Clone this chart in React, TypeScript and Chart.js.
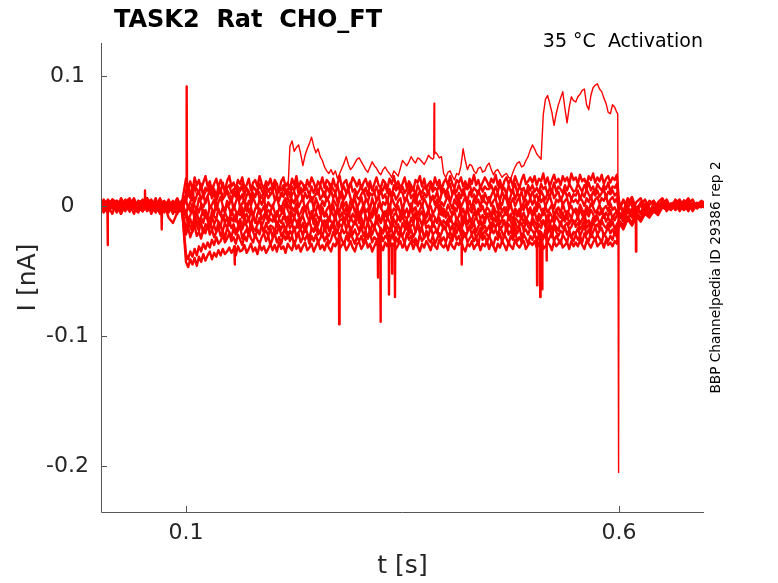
import { useEffect, useRef } from "react";
import { Chart, registerables, Plugin } from "chart.js";

Chart.register(...registerables);

// sample times of the sweeps, in ms (finer while the step is applied)
const TIME_MS = [
  0, 5, 10, 15, 20, 25, 30, 35, 40, 45, 50, 55, 60, 65, 70, 75, 80, 85, 90, 95,
  100, 102.5, 105, 107.5, 110, 112.5, 115, 117.5, 120, 122.5, 125, 127.5, 130, 132.5, 135, 137.5, 140, 142.5, 145, 147.5,
  150, 152.5, 155, 157.5, 160, 162.5, 165, 167.5, 170, 172.5, 175, 177.5, 180, 182.5, 185, 187.5, 190, 192.5, 195, 197.5,
  200, 202.5, 205, 207.5, 210, 212.5, 215, 217.5, 220, 222.5, 225, 227.5, 230, 232.5, 235, 237.5, 240, 242.5, 245, 247.5,
  250, 252.5, 255, 257.5, 260, 262.5, 265, 267.5, 270, 272.5, 275, 277.5, 280, 282.5, 285, 287.5, 290, 292.5, 295, 297.5,
  300, 302.5, 305, 307.5, 310, 312.5, 315, 317.5, 320, 322.5, 325, 327.5, 330, 332.5, 335, 337.5, 340, 342.5, 345, 347.5,
  350, 352.5, 355, 357.5, 360, 362.5, 365, 367.5, 370, 372.5, 375, 377.5, 380, 382.5, 385, 387.5, 390, 392.5, 395, 397.5,
  400, 402.5, 405, 407.5, 410, 412.5, 415, 417.5, 420, 422.5, 425, 427.5, 430, 432.5, 435, 437.5, 440, 442.5, 445, 447.5,
  450, 452.5, 455, 457.5, 460, 462.5, 465, 467.5, 470, 472.5, 475, 477.5, 480, 482.5, 485, 487.5, 490, 492.5, 495, 497.5,
  500, 502.5, 505, 507.5, 510, 512.5, 515, 517.5, 520, 522.5, 525, 527.5, 530, 532.5, 535, 537.5, 540, 542.5, 545, 547.5,
  550, 552.5, 555, 557.5, 560, 562.5, 565, 567.5, 570, 572.5, 575, 577.5, 580, 582.5, 585, 587.5, 590, 592.5, 595, 597.5,
  600, 605, 610, 615, 620, 625, 630, 635, 640, 645, 650, 655, 660, 665, 670, 675, 680, 685, 690, 695,
  700,
];

// current of each sweep, in pA (1e-3 nA)
const TRACE_01 = [
  3, -4, 1, 5, -2, -5, 2, 0, 6, -3, -1, 4, -6, 2, 3, -2, 5, -4, 0, 1,
  21, 14, 19, 12, 22, 16, 20, 13, 18, 23, 15, 19, 11, 17, 21, 14, 20, 16, 12, 19,
  23, 15, 18, 13, 20, 17, 22, 14, 16, 21, 12, 18, 20, 15, 23, 17, 13, 19, 16, 21,
  14, 20, 17, 11, 19, 22, 15, 18, 13, 21, 16, 23, 14, 19, 17, 12, 20, 15, 22, 18,
  13, 19, 16, 22, 14, 20, 18, 12, 21, 15, 17, 23, 14, 18, 20, 13, 16, 22, 19, 15,
  20, 13, 18, 21, 15, 19, 12, 17, 22, 16, 14, 20, 18, 13, 21, 17, 23, 15, 19, 14,
  17, 22, 14, 19, 16, 12, 20, 18, 23, 15, 21, 13, 17, 19, 14, 22, 16, 20, 12, 18,
  21, 16, 23, 17, 14, 20, 18, 22, 15, 19, 13, 21, 17, 24, 16, 20, 14, 18, 22, 19,
  15, 21, 18, 24, 16, 20, 13, 19, 22, 17, 21, 15, 23, 18, 14, 20, 24, 17, 19, 22,
  18, 23, 16, 21, 19, 25, 17, 22, 15, 20, 24, 18, 21, 16, 23, 19, 22, 17, 25, 20,
  22, 17, 24, 19, 21, 16, 23, 20, 25, 18, 22, 19, 24, 17, 21, 23, 18, 22, 20, 24,
  4, -6, 2, 7, -3, 1, 5, -2, -4, 3, 6, 0, -3, 2, 5, -1, 3, -4, 1, 4, 2,
];
const TRACE_02 = [
  -5, 2, 4, -1, -3, 6, 0, -4, 3, 1, -2, 5, -5, -1, 4, 2, -3, 0, 6, -2,
  9, 15, 11, 7, 16, 13, 10, 17, 8, 14, 12, 16, 9, 13, 7, 15, 11, 18, 10, 14,
  16, 10, 13, 8, 15, 12, 17, 9, 14, 11, 6, 15, 13, 10, 17, 12, 8, 16, 11, 14,
  11, 17, 8, 14, 12, 16, 10, 13, 7, 15, 12, 18, 9, 14, 11, 16, 13, 8, 15, 10,
  14, 9, 16, 12, 7, 15, 11, 17, 13, 10, 16, 8, 12, 15, 10, 14, 18, 11, 13, 9,
  12, 16, 10, 14, 8, 17, 13, 11, 15, 9, 14, 12, 17, 10, 13, 7, 16, 12, 15, 11,
  15, 10, 13, 17, 11, 14, 8, 16, 12, 10, 15, 13, 9, 17, 11, 14, 12, 16, 10, 13,
  10, 14, 17, 9, 13, 11, 16, 12, 8, 15, 13, 17, 10, 14, 12, 9, 16, 11, 15, 13,
  13, 16, 11, 15, 10, 18, 12, 14, 9, 16, 11, 13, 17, 10, 15, 12, 14, 8, 16, 12,
  16, 11, 14, 10, 17, 13, 15, 9, 14, 12, 18, 11, 15, 13, 10, 16, 12, 17, 14, 11,
  12, 17, 14, 11, 16, 13, 18, 12, 15, 10, 17, 14, 12, 16, 13, 18, 11, 15, 14, 17,
  -3, 5, -1, -5, 3, 6, -2, 1, 4, -3, 0, 5, -2, 3, -4, 2, 6, -1, 0, 3, -2,
];
const TRACE_03 = [
  0, 5, -3, -1, 4, -6, 2, 3, -2, 1, 5, -4, -1, 2, -5, 3, 0, 4, -3, 2,
  4, 10, 6, 12, 3, 8, 11, 5, 9, 2, 7, 13, 6, 10, 4, 9, 12, 5, 8, 11,
  6, 3, 10, 7, 12, 5, 9, 2, 8, 11, 4, 10, 7, 13, 5, 8, 3, 11, 6, 9,
  12, 5, 8, 4, 10, 7, 13, 6, 2, 9, 11, 5, 8, 12, 4, 10, 6, 9, 3, 7,
  9, 13, 5, 8, 11, 4, 7, 12, 6, 10, 3, 8, 11, 5, 9, 13, 6, 2, 10, 7,
  5, 9, 12, 6, 3, 10, 8, 11, 4, 7, 12, 6, 9, 3, 11, 7, 10, 5, 8, 12,
  10, 4, 7, 13, 6, 9, 2, 8, 11, 5, 10, 7, 12, 4, 8, 6, 11, 3, 9, 13,
  7, 11, 3, 9, 12, 5, 10, 6, 13, 8, 4, 11, 7, 9, 5, 12, 8, 3, 10, 6,
  3, 8, 12, 6, 10, 4, 11, 7, 9, 2, 8, 13, 5, 10, 7, 11, 4, 9, 12, 6,
  11, 6, 9, 4, 12, 8, 5, 10, 7, 13, 6, 9, 11, 4, 8, 12, 7, 10, 5, 9,
  8, 12, 5, 10, 7, 13, 9, 6, 11, 8, 12, 7, 10, 13, 6, 11, 9, 12, 8, 10,
  2, -4, 6, 0, -5, 3, -1, 4, 2, -3, 5, -2, 1, 4, -1, -3, 2, 5, -2, 1, 3,
];
const TRACE_04 = [
  4, -2, -5, 3, 1, -1, 5, -3, 0, 2, -4, 6, 1, -2, -5, 3, 2, -1, 4, -4,
  5, -2, 3, 7, 0, -3, 6, 2, -1, 4, 8, -2, 1, 5, -3, 3, 7, 0, -4, 4,
  1, 6, -3, 3, 8, -1, 2, 5, -4, 4, 0, 7, 2, -2, 5, 1, 6, -3, 3, 0,
  -1, 4, 7, 0, -4, 3, 6, 1, -2, 5, 2, 8, -1, 3, 6, -3, 1, 4, 7, -2,
  6, 1, -2, 4, 0, 7, 3, -3, 5, 2, -1, 6, 8, 0, 3, -4, 4, 1, 6, -1,
  2, 7, -1, 5, 3, -3, 6, 0, 4, 8, -2, 3, 1, 5, -4, 7, 2, -1, 4, 6,
  -3, 3, 6, 1, -2, 5, 8, 0, 4, -1, 6, 2, -3, 4, 7, 1, 5, -2, 3, 0,
  4, 8, 2, -2, 5, 1, 6, -1, 3, 7, 0, 4, -3, 6, 2, 5, -1, 8, 3, 1,
  7, 0, 4, 6, -2, 3, 1, 8, 5, -1, 2, 6, 0, 4, 7, -3, 3, 5, 1, 6,
  1, 5, -1, 7, 3, 6, 0, 4, 8, 2, -2, 5, 3, 7, 1, 4, 6, -1, 5, 3,
  5, 2, 7, 4, 0, 6, 3, 8, 1, 5, 7, 2, 6, 4, 8, 1, 5, 7, 3, 6,
  -5, -8, -1, 3, -4, 2, -6, 1, 4, -2, 0, 3, -3, 5, 1, -2, 4, 0, -1, 3, 2,
];
const TRACE_05 = [
  -2, 3, 0, -6, 4, 2, -3, 1, 5, -1, -4, 0, 3, -2, 6, -5, 1, 2, -3, 4,
  -6, 0, -4, 2, -8, -1, -5, 1, -7, -3, -9, 0, -2, -6, 3, -4, -7, -1, -5, 2,
  -2, -7, 1, -4, -6, 0, -9, -3, 2, -5, -1, -8, -2, 1, -6, -4, 0, -7, -3, -5,
  1, -5, -8, -2, 0, -6, 3, -3, -7, -1, -4, 2, -8, -5, -1, -3, 1, -6, -9, -2,
  -4, 2, -6, -1, -8, -3, 0, -5, 1, -7, -2, -4, 3, -6, -1, -8, -3, 2, -5, 0,
  -7, -3, 1, -5, -2, -9, -4, 0, -6, 2, -1, -5, -8, -3, 1, -6, -2, -4, 0, -7,
  0, -6, -2, -8, 2, -4, -1, -7, -3, 1, -5, -9, -2, 0, -6, -3, 2, -5, -1, -8,
  -5, 1, -3, -7, -1, -4, 3, -6, -2, -8, 0, -3, -5, 1, -7, -2, -4, 0, -6, -1,
  -3, -8, 0, -4, -6, 2, -5, -1, -7, -3, 1, -6, -2, -4, -8, 0, -3, 2, -5, -1,
  -6, -1, -4, 2, -3, -7, 0, -5, -2, 1, -8, -3, -1, -6, 2, -4, -7, -2, 0, -5,
  -2, -5, 1, -3, -6, 0, -4, 2, -1, -5, -3, 1, -6, -2, 0, -4, 2, -3, -1, -5,
  -9, -4, -11, -2, -6, 1, -3, -5, 2, -1, 3, -4, 1, -2, 4, 0, -3, 2, -1, 1, -2,
];
const TRACE_06 = [
  1, -5, 4, 2, -2, 0, -4, 5, -1, 3, 2, -3, 0, 4, -6, 1, -9, -13, -5, -3,
  -4, -11, -7, -2, -10, -5, -12, -8, -3, -9, -6, -13, -4, -8, -10, -2, -7, -11, -5, -9,
  -10, -3, -8, -12, -5, -7, -1, -9, -6, -11, -4, -8, -13, -6, -2, -10, -7, -4, -11, -5,
  -7, -12, -4, -9, -6, -2, -10, -8, -13, -5, -9, -3, -7, -11, -6, -1, -8, -12, -4, -10,
  -5, -9, -11, -3, -8, -6, -12, -4, -7, -10, -2, -9, -5, -12, -8, -3, -11, -6, -9, -4,
  -11, -6, -2, -8, -12, -5, -9, -3, -10, -7, -13, -6, -4, -9, -2, -11, -7, -5, -10, -8,
  -3, -8, -10, -6, -1, -9, -5, -12, -7, -4, -10, -8, -3, -11, -6, -9, -13, -4, -7, -2,
  -9, -5, -12, -7, -4, -11, -8, -2, -10, -6, -3, -9, -12, -5, -8, -4, -10, -7, -13, -6,
  -6, -10, -3, -8, -11, -5, -9, -7, -1, -10, -6, -12, -4, -8, -2, -9, -5, -11, -7, -3,
  -8, -4, -11, -6, -9, -2, -7, -12, -5, -8, -10, -3, -7, -9, -5, -11, -4, -6, -10, -3,
  -5, -9, -2, -7, -10, -4, -8, -3, -6, -11, -4, -7, -2, -9, -5, -8, -3, -10, -6, -4,
  -7, -12, -4, -9, -2, -6, 0, -3, -5, 2, -1, 3, -2, 0, 4, -3, 1, -1, 2, 0, -1,
];
const TRACE_07 = [
  5, 0, -3, 2, -5, 4, 1, -2, 3, -4, 0, 6, -1, -3, 2, 4, -5, 1, 3, -1,
  -8, -14, -10, -16, -7, -12, -15, -9, -13, -6, -11, -17, -8, -14, -10, -12, -16, -7, -13, -9,
  -15, -9, -12, -6, -14, -11, -17, -8, -13, -10, -16, -7, -12, -14, -9, -15, -11, -6, -13, -10,
  -12, -7, -16, -10, -13, -8, -11, -15, -6, -14, -9, -12, -17, -10, -8, -13, -15, -11, -7, -14,
  -10, -15, -8, -13, -11, -17, -9, -12, -14, -7, -16, -11, -10, -13, -6, -15, -9, -12, -14, -8,
  -13, -9, -15, -7, -12, -10, -14, -16, -8, -11, -13, -6, -15, -9, -12, -17, -10, -14, -8, -12,
  -7, -13, -11, -16, -9, -14, -6, -12, -10, -15, -8, -13, -11, -7, -16, -10, -13, -9, -15, -11,
  -14, -10, -8, -13, -15, -9, -12, -17, -11, -7, -14, -10, -16, -12, -8, -13, -11, -15, -9, -6,
  -11, -16, -9, -12, -7, -14, -10, -13, -15, -8, -12, -16, -9, -11, -14, -7, -13, -10, -12, -15,
  -9, -12, -15, -8, -13, -11, -16, -7, -14, -10, -13, -8, -11, -15, -9, -12, -6, -14, -10, -13,
  -12, -8, -14, -10, -7, -13, -11, -15, -9, -12, -8, -14, -10, -6, -12, -9, -13, -8, -11, -7,
  -6, -10, -3, -8, -1, -5, 2, -2, -4, 1, 3, -1, -3, 2, 0, 4, -2, 1, -1, 3, 0,
];
const TRACE_08 = [
  -3, 4, 2, -1, 0, -5, 3, 6, -2, 1, -4, 2, 5, -3, 0, -1, 4, -6, 2, 0,
  -18, -12, -16, -20, -11, -15, -19, -13, -21, -14, -17, -10, -18, -15, -20, -12, -16, -19, -13, -17,
  -11, -17, -14, -20, -16, -10, -18, -13, -15, -21, -12, -17, -19, -14, -11, -16, -20, -13, -18, -15,
  -16, -20, -12, -15, -18, -13, -21, -11, -17, -14, -19, -16, -10, -18, -13, -20, -15, -12, -17, -19,
  -14, -18, -21, -13, -16, -11, -19, -15, -12, -17, -20, -14, -16, -10, -18, -13, -19, -16, -11, -15,
  -19, -13, -16, -18, -12, -20, -14, -17, -11, -15, -18, -21, -13, -16, -19, -12, -15, -18, -14, -20,
  -13, -17, -11, -19, -15, -14, -20, -12, -18, -16, -10, -17, -15, -19, -13, -16, -21, -14, -12, -18,
  -17, -12, -19, -15, -21, -13, -16, -18, -14, -11, -19, -15, -17, -13, -20, -16, -12, -18, -15, -19,
  -15, -20, -13, -17, -12, -18, -16, -11, -19, -14, -16, -20, -12, -17, -15, -13, -19, -11, -16, -18,
  -12, -16, -19, -14, -17, -11, -15, -20, -13, -18, -14, -16, -19, -12, -17, -15, -13, -18, -16, -11,
  -16, -13, -18, -15, -11, -17, -14, -19, -12, -16, -14, -18, -11, -15, -17, -13, -16, -12, -18, -14,
  -11, -15, -8, -13, -5, -9, -3, -6, -1, -4, 1, -2, 2, -3, 0, 3, -1, -2, 1, 2, -1,
];
const TRACE_09 = [
  2, -1, -4, 5, 3, -3, 0, 1, -6, 4, 3, -2, 1, -5, 5, 0, -3, 2, -1, -4,
  -22, -16, -24, -19, -15, -23, -20, -25, -17, -21, -14, -22, -18, -24, -20, -16, -23, -19, -25, -17,
  -20, -24, -17, -22, -19, -15, -25, -21, -18, -23, -16, -20, -24, -18, -22, -14, -21, -19, -23, -17,
  -24, -18, -21, -15, -23, -20, -17, -25, -19, -22, -16, -24, -20, -18, -23, -15, -21, -25, -17, -20,
  -17, -22, -19, -24, -16, -21, -23, -18, -14, -22, -20, -25, -17, -21, -19, -24, -16, -22, -18, -23,
  -21, -15, -23, -19, -25, -18, -22, -16, -20, -24, -17, -21, -15, -23, -20, -18, -24, -16, -22, -19,
  -23, -19, -16, -22, -18, -24, -20, -15, -21, -17, -25, -19, -23, -16, -22, -20, -18, -24, -21, -15,
  -18, -23, -20, -25, -17, -21, -15, -22, -19, -24, -20, -16, -22, -18, -25, -21, -17, -23, -19, -22,
  -24, -17, -21, -18, -23, -16, -20, -24, -15, -22, -19, -23, -17, -21, -16, -24, -20, -18, -22, -17,
  -19, -22, -16, -23, -20, -25, -18, -21, -17, -24, -15, -20, -23, -19, -21, -16, -22, -18, -25, -20,
  -21, -17, -23, -19, -15, -22, -18, -24, -20, -16, -22, -19, -17, -23, -20, -16, -21, -18, -22, -17,
  -13, -17, -10, -14, -7, -11, -4, -8, -2, -5, 1, -3, 0, 2, -2, 1, -4, 2, 0, -1, 1,
];
const TRACE_10 = [
  -4, 1, 5, -2, 2, -6, 3, 0, -1, 4, -3, 1, -2, 6, -4, 2, 0, -5, 3, 1,
  -37, -41, -35, -39, -33, -38, -31, -35, -29, -33, -28, -32, -26, -30, -24, -29, -27, -22, -28, -25,
  -21, -27, -24, -29, -22, -26, -30, -23, -27, -20, -25, -28, -22, -26, -29, -24, -21, -27, -23, -30,
  -25, -21, -28, -24, -29, -22, -26, -20, -27, -23, -30, -25, -21, -28, -24, -26, -22, -29, -23, -27,
  -22, -28, -25, -21, -27, -23, -29, -26, -20, -24, -28, -22, -26, -30, -23, -27, -21, -25, -29, -24,
  -27, -23, -29, -22, -25, -20, -28, -24, -26, -30, -21, -27, -23, -25, -29, -22, -26, -24, -28, -21,
  -24, -29, -21, -26, -23, -28, -25, -30, -22, -27, -24, -20, -26, -28, -23, -29, -25, -21, -27, -24,
  -28, -22, -25, -27, -20, -26, -23, -29, -24, -21, -28, -25, -22, -27, -24, -30, -21, -26, -23, -28,
  -23, -27, -30, -24, -26, -21, -28, -22, -25, -29, -23, -26, -20, -27, -24, -28, -22, -25, -29, -23,
  -26, -21, -27, -23, -29, -25, -22, -28, -24, -20, -27, -23, -26, -29, -22, -25, -28, -21, -24, -27,
  -22, -26, -23, -28, -21, -25, -27, -20, -24, -26, -22, -25, -28, -21, -24, -27, -23, -26, -20, -24,
  -12, -16, -9, -13, -7, -10, -5, -8, -3, -6, 0, -2, 2, -3, 1, -1, 3, -2, 0, 2, -1,
];
const TRACE_11 = [
  0, -3, 2, 4, -4, 1, -1, 5, -2, -5, 3, 0, 4, -1, 2, -4, 1, -2, -6, 3,
  -43, -47, -41, -45, -40, -46, -39, -43, -37, -42, -38, -35, -41, -36, -39, -34, -38, -33, -37, -35,
  -32, -36, -33, -38, -31, -35, -34, -30, -36, -33, -29, -35, -32, -37, -30, -34, -31, -36, -33, -29,
  -34, -30, -35, -28, -33, -31, -36, -29, -32, -34, -27, -33, -30, -35, -31, -28, -34, -32, -29, -35,
  -31, -27, -33, -30, -34, -28, -32, -35, -29, -31, -26, -33, -30, -28, -34, -31, -27, -32, -35, -29,
  -28, -33, -30, -26, -32, -29, -35, -31, -27, -33, -30, -34, -28, -31, -26, -32, -29, -33, -30, -27,
  -32, -29, -34, -30, -27, -33, -28, -31, -35, -29, -32, -27, -30, -34, -28, -31, -33, -26, -30, -32,
  -29, -34, -27, -31, -33, -28, -30, -26, -32, -35, -29, -31, -27, -33, -30, -28, -34, -29, -31, -27,
  -33, -28, -31, -35, -29, -32, -27, -30, -34, -28, -31, -33, -26, -30, -32, -29, -27, -33, -30, -28,
  -30, -27, -32, -29, -26, -33, -31, -28, -30, -34, -27, -31, -29, -26, -32, -30, -28, -33, -27, -31,
  -28, -31, -26, -30, -33, -27, -29, -32, -28, -25, -31, -29, -27, -32, -26, -30, -28, -31, -27, -29,
  -13, -18, -10, -15, -8, -12, -6, -9, -4, -7, -1, -3, 1, -2, 2, 0, -3, 1, -1, 2, 0,
];
// the sweep that climbs above the others
const TRACE_12 = [
  6, -2, -1, 3, -4, 0, 2, -5, 4, 1, -3, 5, 0, -2, 1, -4, 3, -1, 2, -3,
  9, 13, 7, 12, 15, 8, 11, 14, 6, 10, 13, 9, 16, 11, 7, 12, 14, 8, 11, 13,
  10, 6, 12, 15, 9, 11, 14, 7, 13, 10, 8, 15, 12, 9, 11, 6, 14, 10, 13, 8,
  11, 15, 9, 12, 7, 13, 10, 8, 46, 50, 42, 45, 47, 40, 31, 39, 44, 48, 53, 46,
  41, 44, 38, 35, 30, 27, 25, 28, 24, 27, 21, 25, 29, 33, 38, 32, 28, 30, 33, 36,
  37, 34, 31, 28, 26, 30, 34, 31, 29, 26, 24, 28, 30, 27, 25, 22, 27, 25, 23, 29,
  35, 33, 31, 34, 38, 35, 33, 37, 36, 34, 32, 35, 39, 37, 36, 42, 40, 37, 38, 25,
  22, 26, 27, 23, 20, 25, 24, 31, 44, 35, 28, 32, 31, 27, 25, 29, 30, 26, 27, 31,
  33, 28, 24, 27, 28, 25, 22, 24, 25, 22, 21, 26, 30, 33, 34, 30, 31, 35, 38, 43,
  47, 44, 40, 38, 36, 70, 82, 85, 79, 72, 62, 71, 78, 83, 88, 75, 64, 76, 84, 81,
  80, 84, 86, 89, 90, 78, 74, 85, 91, 93, 94, 90, 88, 83, 79, 72, 71, 78, 76, 72,
  -4, 3, -2, 5, -1, 2, -4, 1, 3, -2, 4, 0, -3, 2, -1, 5, -2, 1, 3, -1, 2,
];

const TRACES = [
  TRACE_01, TRACE_02, TRACE_03, TRACE_04, TRACE_05, TRACE_06,
  TRACE_07, TRACE_08, TRACE_09, TRACE_10, TRACE_11, TRACE_12,
];

// brief transients between samples: [t (s), current (pA)]
const SPIKES: { trace: number; pts: [number, number][] }[] = [
  { trace: 10, pts: [[0.0093, 0], [0.0096, -30], [0.0099, -2]] },
  { trace: 3, pts: [[0.0524, 1], [0.0527, 12], [0.053, 0]] },
  { trace: 7, pts: [[0.0716, -1], [0.072, -18], [0.0724, 0]] },
  { trace: 1, pts: [[0.1004, 13], [0.1008, 92], [0.1012, 11]] },
  { trace: 10, pts: [[0.1558, -31], [0.1562, -45], [0.1566, -32]] },
  { trace: 8, pts: [[0.2766, -21], [0.2769, -91], [0.2772, -22]] },
  { trace: 9, pts: [[0.3214, -25], [0.3217, -55], [0.322, -26]] },
  { trace: 7, pts: [[0.3242, -17], [0.3245, -89], [0.3249, -18]] },
  { trace: 8, pts: [[0.3341, -20], [0.3344, -68], [0.3348, -21]] },
  { trace: 10, pts: [[0.3377, -30], [0.338, -52], [0.3384, -29]] },
  { trace: 9, pts: [[0.341, -24], [0.3413, -70], [0.3417, -25]] },
  { trace: 11, pts: [[0.3861, 37], [0.3864, 79], [0.3868, 40]] },
  { trace: 5, pts: [[0.4181, -7], [0.4184, -45], [0.4188, -8]] },
  { trace: 9, pts: [[0.5051, -24], [0.5054, -61], [0.5057, -25]] },
  { trace: 8, pts: [[0.5087, -19], [0.509, -70], [0.5094, -20]] },
  { trace: 10, pts: [[0.5108, -29], [0.5111, -64], [0.5115, -28]] },
  { trace: 6, pts: [[0.516, -10], [0.5163, -42], [0.5167, -11]] },
  { trace: 11, pts: [[0.5985, 71], [0.5995, -205]] },
  { trace: 3, pts: [[0.6193, -2], [0.6196, -35], [0.6199, -3]] },
];

// the climbing sweep is drawn thinner than the crowded ones
const LINE_WIDTHS = [2.4, 2.4, 2.4, 2.4, 2.4, 2.4, 2.4, 2.4, 2.4, 2.4, 2.4, 1.4];

const X_TICKS = [0.1, 0.6];
const Y_TICKS = [0.1, 0, -0.1, -0.2];
const X_RANGE = [0.0019, 0.6981];
const Y_RANGE = [-0.2354, 0.1254];

const TITLE = "TASK2  Rat  CHO_FT";
const SUBTITLE = "35 °C  Activation";
const SIDE_NOTE = "BBP Channelpedia ID 29386 rep 2";
const X_LABEL = "t [s]";
const Y_LABEL = "I [nA]";

const FAMILY = "'DejaVu Sans', sans-serif";
const INK = "#262626";

// MATLAB style frame: left + bottom axis only, ticks pointing inwards
const framePlugin: Plugin<"line"> = {
  id: "matlabFrame",
  afterDraw(chart) {
    const { ctx, chartArea: a, scales } = chart;
    const sx = scales.x;
    const sy = scales.y;
    ctx.save();
    ctx.strokeStyle = "#555555";
    ctx.lineWidth = 1;
    ctx.beginPath();
    ctx.moveTo(a.left + 0.5, a.top);
    ctx.lineTo(a.left + 0.5, a.bottom + 0.5);
    ctx.lineTo(a.right, a.bottom + 0.5);
    for (const v of Y_TICKS) {
      const py = Math.round(sy.getPixelForValue(v)) + 0.5;
      ctx.moveTo(a.left, py);
      ctx.lineTo(a.left + 6, py);
    }
    for (const v of X_TICKS) {
      const px = Math.round(sx.getPixelForValue(v)) + 0.5;
      ctx.moveTo(px, a.bottom);
      ctx.lineTo(px, a.bottom - 6);
    }
    ctx.stroke();

    ctx.fillStyle = "#000000";
    ctx.textBaseline = "alphabetic";
    ctx.font = `bold 24px ${FAMILY}`;
    ctx.textAlign = "left";
    ctx.fillText(TITLE, a.left + 13, 27);

    ctx.font = `19px ${FAMILY}`;
    ctx.textAlign = "right";
    ctx.fillText(SUBTITLE, a.right - 1, a.top + 4);

    ctx.font = `13.7px ${FAMILY}`;
    ctx.textAlign = "center";
    ctx.translate(a.right + 16, (a.top + a.bottom) / 2);
    ctx.rotate(-Math.PI / 2);
    ctx.fillText(SIDE_NOTE, 0, 0);
    ctx.restore();
  },
};

function buildDatasets() {
  return TRACES.map((vals, i) => {
    const pts = TIME_MS.map((ms, k) => ({ x: ms / 1000, y: vals[k] / 1000 }));
    for (const s of SPIKES) {
      if (s.trace !== i) continue;
      for (const [t, v] of s.pts) pts.push({ x: t, y: v / 1000 });
    }
    pts.sort((p, q) => p.x - q.x);
    return {
      data: pts,
      borderColor: "#ff0000",
      borderWidth: LINE_WIDTHS[i],
      borderJoinStyle: "round" as const,
      pointRadius: 0,
      tension: 0,
      fill: false,
    };
  });
}

function CurrentTraces() {
  const ref = useRef<HTMLCanvasElement | null>(null);

  useEffect(() => {
    if (!ref.current) return;
    const chart = new Chart(ref.current, {
      type: "line",
      data: { datasets: buildDatasets() },
      options: {
        animation: false,
        responsive: true,
        maintainAspectRatio: false,
        parsing: false,
        layout: { padding: { top: 43, right: 74, left: 0, bottom: 0 } },
        plugins: {
          legend: { display: false },
          tooltip: { enabled: false },
          title: { display: false },
        },
        scales: {
          x: {
            type: "linear",
            min: X_RANGE[0],
            max: X_RANGE[1],
            grid: { display: false, drawTicks: false },
            border: { display: false },
            afterBuildTicks: (s) => {
              s.ticks = X_TICKS.map((value) => ({ value }));
            },
            afterFit: (s) => {
              s.height = 71;
            },
            ticks: {
              autoSkip: false,
              maxRotation: 0,
              padding: 8,
              color: INK,
              font: { family: FAMILY, size: 22 },
              callback: (v) => Number(v).toFixed(1),
            },
            title: {
              display: true,
              text: X_LABEL,
              color: INK,
              font: { family: FAMILY, size: 25 },
              padding: { top: 0, bottom: 2 },
            },
          },
          y: {
            type: "linear",
            min: Y_RANGE[0],
            max: Y_RANGE[1],
            grid: { display: false, drawTicks: false },
            border: { display: false },
            afterBuildTicks: (s) => {
              s.ticks = Y_TICKS.map((value) => ({ value }));
            },
            afterFit: (s) => {
              s.width = 101;
            },
            ticks: {
              autoSkip: false,
              crossAlign: "center",
              padding: 12,
              color: INK,
              font: { family: FAMILY, size: 22 },
              callback: (v) => (Number(v) === 0 ? "0" : Number(v).toFixed(1)),
            },
            title: {
              display: true,
              text: Y_LABEL,
              color: INK,
              font: { family: FAMILY, size: 25 },
              padding: { top: 13, bottom: 0 },
            },
          },
        },
      },
      plugins: [framePlugin],
    });
    return () => chart.destroy();
  }, []);

  return (
    <div style={{ position: "fixed", left: 0, top: 0, width: 778, height: 583, background: "#fff" }}>
      <canvas ref={ref} />
    </div>
  );
}

export default function App() {
  return <CurrentTraces />;
}
